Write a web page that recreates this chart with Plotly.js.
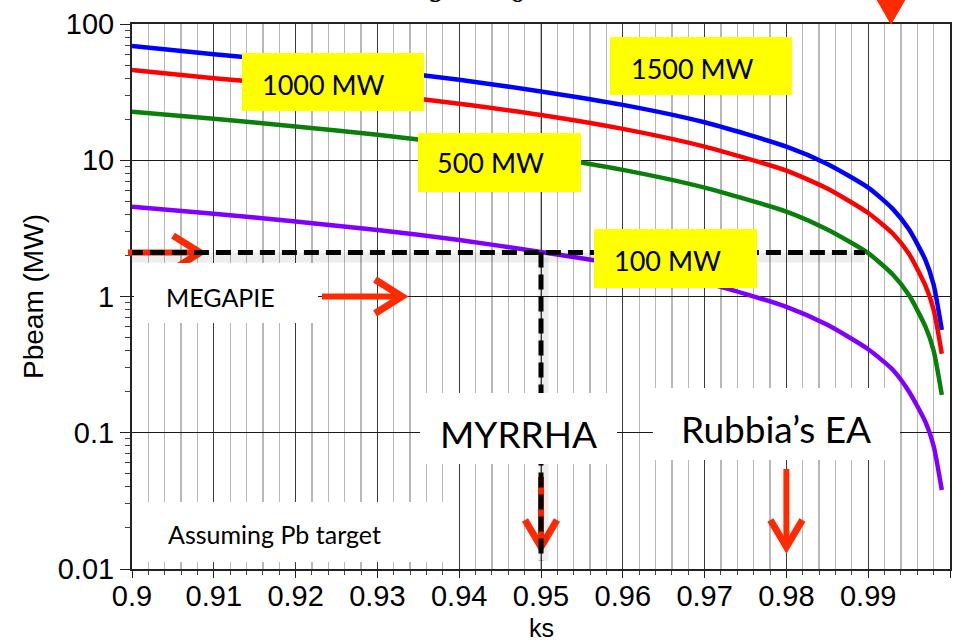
<!DOCTYPE html>
<html>
<head>
<meta charset="utf-8">
<script src="https://cdn.plot.ly/plotly-3.0.1.min.js"></script>
<style>html,body{margin:0;padding:0;background:#fff;}#chart{width:956px;height:641px;}</style>
</head>
<body>
<div id="chart"></div>
<script>
// ---- data ----
const ks = [0.9, 0.91, 0.92, 0.93, 0.94, 0.95, 0.96, 0.97, 0.98, 0.985, 0.99, 0.993, 0.995, 0.997, 0.998, 0.999];
const p1500 = [69, 60, 53, 46, 39, 32, 25.5, 19, 12.6, 9.4, 6.3, 4.4, 3.1, 1.85, 1.22, 0.57];
const p1000 = [46, 40, 35.5, 30.7, 26, 21.5, 17, 12.6, 8.4, 6.2, 4.1, 2.9, 2.05, 1.2, 0.8, 0.38];
const p500  = [22.7, 20.2, 17.7, 15.4, 13, 10.7, 8.5, 6.3, 4.2, 3.1, 2.08, 1.45, 1.02, 0.6, 0.4, 0.19];
const p100  = [4.55, 4.05, 3.55, 3.08, 2.6, 2.12, 1.7, 1.27, 0.84, 0.62, 0.41, 0.29, 0.2, 0.12, 0.08, 0.038];
const seriesNames = ['1500 MW', '1000 MW', '500 MW', '100 MW'];
const seriesColors = ['#0000ff', '#ff0000', '#0a800a', '#7f00ff'];

const xTickVals = [0.9, 0.91, 0.92, 0.93, 0.94, 0.95, 0.96, 0.97, 0.98, 0.99, 1];
const xTickText = ['0.9', '0.91', '0.92', '0.93', '0.94', '0.95', '0.96', '0.97', '0.98', '0.99', '1'];
const yTickVals = [0.01, 0.1, 1, 10, 100];
const yTickText = ['0.01', '0.1', '1', '10', '100'];
const yMinorVals = [];
[0.01, 0.1, 1, 10].forEach(d => { for (let m = 2; m <= 9; m++) yMinorVals.push(d * m); });
const xTitle = 'ks';
const yTitle = 'Pbeam (MW)';

// reference operating points (MYRRHA / MEGAPIE)
const myrrhaKs = 0.95;
const myrrhaP = 2.1;
const dashEndKs = 0.9896;   // where the 500 MW curve reaches myrrhaP
const dashStartKs = 0.8995;
const dashBottomP = 0.0115;
const megapieP = 1;
const rubbiaKs = 0.98;

// ---- layout helpers (pixel -> paper) ----
const L = 132, R = 950, T = 24, B = 569;
const px = v => (v - L) / (R - L);
const py = v => (B - v) / (B - T);
const ly = v => (Math.log10(v) + 2) / 4;   // log value -> paper y
const kx = k => (k - 0.9) / 0.1;            // ks -> paper x

const traces = [p1500, p1000, p500, p100].map((ys, i) => ({
  x: ks, y: ys, type: 'scatter', mode: 'lines', name: seriesNames[i],
  line: {color: seriesColors[i], width: 4.5, shape: 'spline', smoothing: 0.6},
  hoverinfo: 'x+y+name'
}));

const red = '#ff2a00';
function pathShape(d, color, width, fill) {
  return {type: 'path', xref: 'paper', yref: 'paper', path: d, layer: 'above',
          line: {color: color, width: width}, fillcolor: fill || 'rgba(0,0,0,0)'};
}
function P(x, y) { return px(x).toFixed(5) + ',' + py(y).toFixed(5); }
function arrowRight(x0, x1, y) {
  return [
    pathShape('M' + P(x0, y) + ' L' + P(x1 - 3, y), red, 6),
    pathShape('M' + P(x1 - 27, y - 17) + ' L' + P(x1, y) + ' L' + P(x1 - 27, y + 17), red, 7)
  ];
}
function arrowDown(x, y0, y1) {
  return [
    pathShape('M' + P(x, y0) + ' L' + P(x, y1 - 3), red, 6),
    pathShape('M' + P(x - 16, y1 - 27) + ' L' + P(x, y1) + ' L' + P(x + 16, y1 - 27), red, 7)
  ];
}
function rect(x0, y0, x1, y1, fill) {
  return {type: 'rect', xref: 'paper', yref: 'paper', layer: 'above',
          x0: px(x0), x1: px(x1), y0: py(y1), y1: py(y0),
          fillcolor: fill, line: {width: 0}};
}

const mpx = L + kx(myrrhaKs) * (R - L);
const rbx = L + kx(rubbiaKs) * (R - L);
const mpy = B - ly(myrrhaP) * (B - T);
const megy = B - ly(megapieP) * (B - T);

const shadow = 'rgba(0,0,0,0.07)';
const shapes = [].concat(
  arrowRight(128, 200, mpy),
  arrowRight(322, 402, megy),
  arrowDown(mpx, 477, 547),
  arrowDown(rbx, 469, 547),
  [pathShape('M' + P(876, -2) + ' L' + P(906, -2) + ' L' + P(891, 24) + ' Z', red, 1, red)],
  [
    {type: 'line', xref: 'x', yref: 'paper', layer: 'above', x0: dashStartKs, x1: dashEndKs,
     y0: ly(myrrhaP) - 5 / 545, y1: ly(myrrhaP) - 5 / 545, line: {color: shadow, width: 10}},
    {type: 'line', xref: 'x', yref: 'paper', layer: 'above', x0: myrrhaKs + 0.0003, x1: myrrhaKs + 0.0003,
     y0: ly(myrrhaP) - 5 / 545, y1: ly(dashBottomP), line: {color: shadow, width: 10}},
    {type: 'line', xref: 'x', yref: 'paper', layer: 'above', x0: dashStartKs, x1: dashEndKs,
     y0: ly(myrrhaP), y1: ly(myrrhaP), line: {color: '#000', width: 5, dash: '15px,7px'}},
    {type: 'line', xref: 'x', yref: 'paper', layer: 'above', x0: myrrhaKs, x1: myrrhaKs,
     y0: ly(myrrhaP), y1: ly(dashBottomP), line: {color: '#000', width: 5, dash: '15px,7px'}}
  ],
  [
    rect(242, 53, 424, 111, '#ffff00'),
    rect(610, 37, 792, 95, '#ffff00'),
    rect(418, 133, 581, 192, '#ffff00'),
    rect(594, 229, 757, 288, '#ffff00'),
    rect(134, 263, 318, 323, '#ffffff'),
    rect(420, 393, 617, 464, '#ffffff'),
    rect(653, 388, 900, 460, '#ffffff'),
    rect(148, 502, 447, 562, '#ffffff')
  ]
);

const lab = 'Lato, "Noto Sans", sans-serif';
const axFont = '"Liberation Sans", Arial, sans-serif';
function txt(text, x, y, size, anchor) {
  return {text: text, xref: 'paper', yref: 'paper', x: px(x), y: py(y), showarrow: false,
          xanchor: anchor || 'left', yanchor: 'middle', font: {family: lab, size: size, color: '#000'}};
}
const annotations = [
  txt('1000 MW', 260, 84, 27),
  txt('1500 MW', 629, 68, 27),
  txt('500 MW', 435, 163, 27),
  txt('100 MW', 612, 260, 27),
  txt('MEGAPIE', 164, 297, 25),
  txt('MYRRHA', 518, 433, 37, 'center'),
  txt('Rubbia\u2019s EA', 776, 428, 37, 'center'),
  txt('Assuming Pb target', 166, 534, 25),
  // x-axis title
  {text: xTitle, xref: 'paper', yref: 'paper', x: 0.5, y: py(612), showarrow: false, xanchor: 'center',
   yanchor: 'top', font: {family: axFont, size: 25, color: '#000'}},
  {text: 's', xref: 'paper', yref: 'paper', x: px(435), y: py(11), showarrow: false, xanchor: 'center',
   yanchor: 'bottom', font: {family: '"Liberation Serif", serif', size: 34, color: '#000'}},
  {text: '0', xref: 'paper', yref: 'paper', x: px(517), y: py(11), showarrow: false, xanchor: 'center',
   yanchor: 'bottom', font: {family: '"Liberation Serif", serif', size: 34, color: '#000'}}
];

const tickFont = {family: axFont, size: 29, color: '#000'};

const layout = {
  width: 956, height: 641,
  margin: {l: L, r: 956 - R, t: T, b: 641 - B, pad: 0},
  paper_bgcolor: '#fff', plot_bgcolor: '#fff',
  showlegend: false,
  xaxis: {
    range: [0.9, 1.0], tickmode: 'array', tickvals: xTickVals, ticktext: xTickText,
    tickfont: tickFont, ticks: 'outside', ticklen: 7, tickcolor: '#222', tickwidth: 1,
    ticklabelstandoff: -7,
    showgrid: true, gridcolor: '#3a3a3a', gridwidth: 1,
    minor: {dtick: 0.002, tick0: 0.9, showgrid: true, gridcolor: '#b8b8b8', gridwidth: 1.3,
            ticks: 'outside', ticklen: 4, tickcolor: '#444'},
    showline: true, linecolor: '#222', linewidth: 2, mirror: true, zeroline: false
  },
  yaxis: {
    type: 'log', range: [-2, 2], tickmode: 'array', tickvals: yTickVals, ticktext: yTickText,
    tickfont: tickFont, ticks: 'outside', ticklen: 10, tickcolor: '#222',
    showgrid: true, gridcolor: '#1a1a1a', gridwidth: 1,
    minor: {tickmode: 'array', tickvals: yMinorVals, ticks: 'outside', ticklen: 5, tickcolor: '#444', showgrid: false},
    showline: true, linecolor: '#222', linewidth: 2, mirror: true, zeroline: false,
    title: {text: yTitle, font: {family: axFont, size: 28, color: '#000'}, standoff: 6}
  },
  shapes: shapes,
  annotations: annotations
};

Plotly.newPlot('chart', traces, layout, {displayModeBar: false, staticPlot: true});
</script>
</body>
</html>
